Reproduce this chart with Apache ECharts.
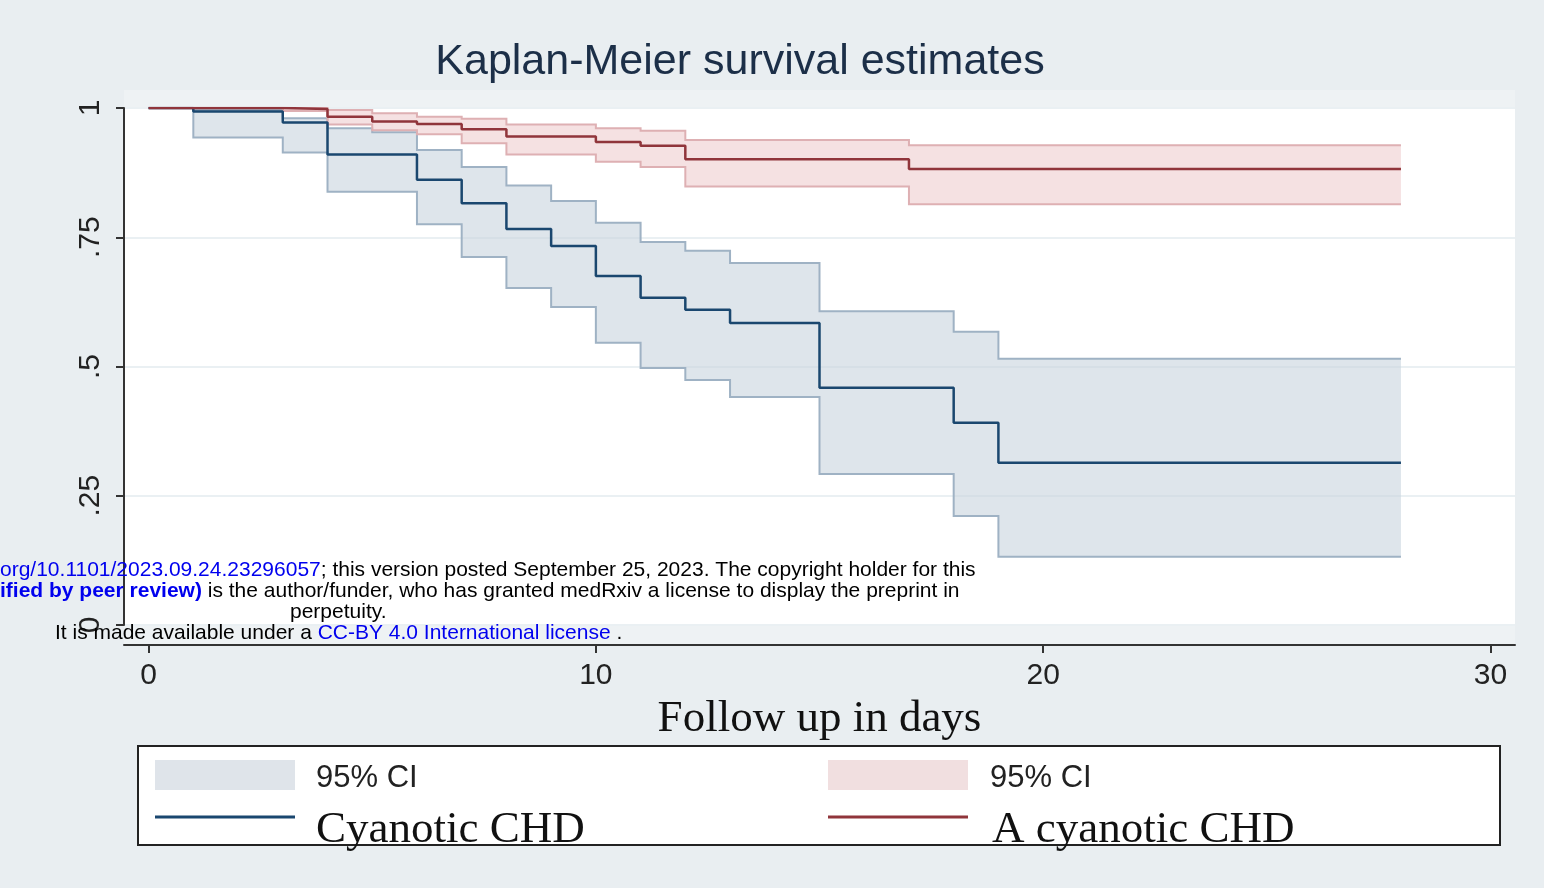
<!DOCTYPE html>
<html><head><meta charset="utf-8">
<script src="https://cdn.jsdelivr.net/npm/echarts@6/dist/echarts.min.js"></script>
<style>html,body{margin:0;padding:0;background:#e9eef1}#main{width:1544px;height:888px}</style>
</head><body><div id="main"></div>
<script>
// Cyanotic CHD
var cyDays  = [0, 1, 3, 4, 5, 6, 7, 8, 9, 10, 11, 12, 13, 15, 18, 19, 28];
var cyEst   = [1, 0.993, 0.972, 0.91, 0.91, 0.861, 0.816, 0.766, 0.733, 0.675, 0.633, 0.61, 0.584, 0.459, 0.391, 0.314, 0.314];
var cyLow   = [1, 0.943, 0.914, 0.838, 0.838, 0.775, 0.712, 0.652, 0.615, 0.546, 0.497, 0.474, 0.441, 0.292, 0.211, 0.132, 0.132];
var cyHigh  = [1, 0.996, 0.98, 0.961, 0.953, 0.919, 0.886, 0.85, 0.82, 0.778, 0.741, 0.724, 0.7, 0.607, 0.567, 0.515, 0.515];
// Acyanotic CHD
var acDays  = [0, 1, 3, 4, 5, 6, 7, 8, 10, 11, 12, 17, 28];
var acEst   = [1, 1, 0.998, 0.983, 0.974, 0.969, 0.959, 0.945, 0.934, 0.927, 0.901, 0.882, 0.882];
var acLow   = [1, 1, 0.994, 0.968, 0.957, 0.949, 0.932, 0.91, 0.896, 0.886, 0.848, 0.814, 0.814];
var acHigh  = [1, 1, 1, 0.996, 0.99, 0.983, 0.979, 0.968, 0.961, 0.956, 0.938, 0.928, 0.928];
var xTicks = [0, 10, 20, 30];
var yTicks = [0, 0.25, 0.5, 0.75, 1];
var yTickText = ['0', '.25', '.5', '.75', '1'];

function pairs(xs, ys) { return xs.map(function (x, i) { return [x, ys[i]]; }); }

// step polygon: upper edge forward, lower edge backward
function stepPts(api, xs, ys) {
    var pts = [];
    for (var i = 0; i < xs.length; i++) {
        if (i > 0) pts.push(api.coord([xs[i], ys[i - 1]]));
        pts.push(api.coord([xs[i], ys[i]]));
    }
    return pts;
}
function band(xs, lo, hi, edge, fill) {
    return {
        type: 'custom', silent: true, z: 1, data: [[xs[0], hi[0]]],
        renderItem: function (params, api) {
            var up = stepPts(api, xs, hi);
            var dn = stepPts(api, xs, lo);
            return { type: 'group', children: [
                { type: 'polygon', shape: { points: up.concat(dn.slice().reverse()) }, style: { fill: fill } },
                { type: 'polyline', shape: { points: up }, style: { stroke: edge, lineWidth: 2, fill: null } },
                { type: 'polyline', shape: { points: dn }, style: { stroke: edge, lineWidth: 2, fill: null } }
            ] };
        }
    };
}

var chart = echarts.init(document.getElementById('main'));
var option = {
    backgroundColor: '#e9eef1',
    animation: false,
    title: {
        text: 'Kaplan-Meier survival estimates', left: 735, top: 36, textAlign: 'center',
        textStyle: { fontFamily: 'Liberation Sans', fontWeight: 'normal', fontSize: 43, color: '#1c2f48' }
    },
    graphic: [
        { type: 'rect', z: -10, shape: { x: 124, y: 90, width: 1391, height: 555 }, style: { fill: '#eef2f4' } },
        { type: 'rect', z: -9, shape: { x: 124, y: 108, width: 1391, height: 517 }, style: { fill: '#ffffff' } },
        // legend
        { type: 'rect', shape: { x: 138, y: 746, width: 1362, height: 99 }, style: { fill: '#fff', stroke: '#222', lineWidth: 2 } },
        { type: 'rect', shape: { x: 155, y: 760, width: 140, height: 30 }, style: { fill: '#dfe4ea' } },
        { type: 'line', shape: { x1: 155, y1: 817, x2: 295, y2: 817 }, style: { stroke: '#1a476f', lineWidth: 3 } },
        { type: 'text', x: 316, y: 778, style: { text: '95% CI', fontSize: 31, fontFamily: 'Liberation Sans', fill: '#222', verticalAlign: 'middle' } },
        { type: 'text', x: 316, y: 830, style: { text: 'Cyanotic CHD', fontSize: 45, fontFamily: 'Liberation Serif', fill: '#111', verticalAlign: 'middle' } },
        { type: 'rect', shape: { x: 828, y: 760, width: 140, height: 30 }, style: { fill: '#f1dfe0' } },
        { type: 'line', shape: { x1: 828, y1: 817, x2: 968, y2: 817 }, style: { stroke: '#90353b', lineWidth: 3 } },
        { type: 'text', x: 990, y: 778, style: { text: '95% CI', fontSize: 31, fontFamily: 'Liberation Sans', fill: '#222', verticalAlign: 'middle' } },
        { type: 'text', x: 992, y: 830, style: { text: 'A cyanotic CHD', fontSize: 45, fontFamily: 'Liberation Serif', fill: '#111', verticalAlign: 'middle' } },
        // medRxiv overlay
        { type: 'text', z: 100, x: 0, y: 560, style: { fontSize: 21, fontFamily: 'Liberation Sans', fill: '#000',
            rich: { b: { fill: '#0000ee', fontSize: 21 } },
            text: '{b|org/10.1101/2023.09.24.23296057}; this version posted September 25, 2023. The copyright holder for this' } },
        { type: 'text', z: 100, x: 0, y: 581, style: { fontSize: 21, fontFamily: 'Liberation Sans', fill: '#000',
            rich: { b: { fill: '#0000ee', fontSize: 21, fontWeight: 'bold' } },
            text: '{b|ified by peer review)} is the author/funder, who has granted medRxiv a license to display the preprint in' } },
        { type: 'text', z: 100, x: 290, y: 602, style: { text: 'perpetuity.', fontSize: 21, fontFamily: 'Liberation Sans', fill: '#000' } },
        { type: 'text', z: 100, x: 55, y: 623, style: { fontSize: 21, fontFamily: 'Liberation Sans', fill: '#000',
            rich: { b: { fill: '#0000ee', fontSize: 21 } },
            text: 'It is made available under a {b|CC-BY 4.0 International license} .' } }
    ],
    grid: { left: 124, right: 29, top: 108, bottom: 263 },
    xAxis: {
        type: 'value', min: -0.55, max: 30.55, offset: 20,
        name: 'Follow up in days', nameLocation: 'middle', nameGap: 52,
        nameTextStyle: { fontFamily: 'Liberation Serif', fontSize: 45, color: '#111' },
        axisLine: { onZero: false, lineStyle: { color: '#333', width: 2 } },
        axisTick: { customValues: xTicks, length: 8, lineStyle: { color: '#333', width: 2 } },
        axisLabel: { customValues: xTicks, fontSize: 30, color: '#222', fontFamily: 'Liberation Sans', margin: 16 },
        splitLine: { show: false }
    },
    yAxis: {
        type: 'value', min: 0, max: 1,
        axisLine: { show: true, onZero: false, lineStyle: { color: '#333', width: 2 } },
        axisTick: { show: true, customValues: yTicks, length: 8, lineStyle: { color: '#333', width: 2 } },
        axisLabel: { customValues: yTicks, rotate: 90, fontSize: 30, color: '#222', fontFamily: 'Liberation Sans', margin: 18,
            formatter: function (v) { var i = yTicks.indexOf(v); return i >= 0 ? yTickText[i] : ''; } },
        splitLine: { show: true, lineStyle: { color: '#eaf0f3', width: 2 } }
    },
    series: [
        band(cyDays, cyLow, cyHigh, '#9fb2c4', 'rgba(200,211,222,0.6)'),
        band(acDays, acLow, acHigh, '#deb0b3', 'rgba(236,200,203,0.55)'),
        { name: 'Cyanotic CHD', type: 'line', step: 'end', symbol: 'none', lineStyle: { color: '#1a476f', width: 2.5 }, data: pairs(cyDays, cyEst), z: 5 },
        { name: 'A cyanotic CHD', type: 'line', step: 'end', symbol: 'none', lineStyle: { color: '#90353b', width: 2.5 }, data: pairs(acDays, acEst), z: 5 }
    ]
};
chart.setOption(option);
</script>
</body></html>
